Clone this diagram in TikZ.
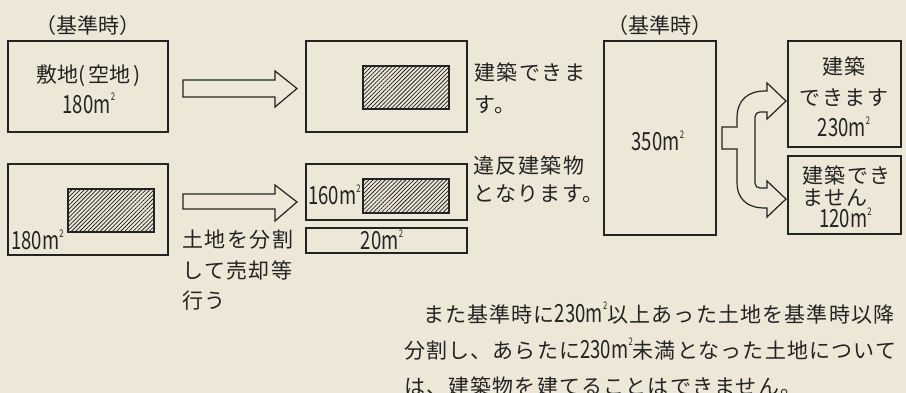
\documentclass[tikz,border=0pt]{standalone}
\usepackage{fontspec}
\setmainfont{Noto Sans CJK JP}[LetterSpace=7]
\newfontfamily\plainjp{Noto Sans CJK JP}
\newfontfamily\parafont{Noto Sans CJK JP}[LetterSpace=5.5]
\newfontfamily\numfont{Noto Sans CJK JP}[FakeStretch=0.74]
\usetikzlibrary{patterns.meta}
\definecolor{bg}{RGB}{237,231,215}
\definecolor{ink}{RGB}{35,35,35}
\newcommand\area[1]{{\numfont\fontsize{25}{25}\selectfont #1m\kern0.3pt\raisebox{0.5em}{\fontsize{10.5}{10.5}\selectfont 2}}}
\begin{document}
\begin{tikzpicture}[x=1pt,y=-1pt,
  every node/.style={inner sep=0pt, text=ink, font=\fontsize{21}{30}\selectfont},
  box/.style={draw=ink, line width=1.5pt},
  hatch/.style={draw=ink, line width=1.8pt, pattern={Lines[angle=45,distance=2.9pt,line width=0.75pt]}, pattern color=ink},
  blockarrow/.style={draw=ink, line width=1.2pt, line join=miter}]
\useasboundingbox[fill=bg] (0,0) rectangle (906,393);

% left top row
\node[font=\plainjp\fontsize{21}{30}\selectfont] (k1) at (88,26) {（基準時）};
\node[box, minimum width=160, minimum height=91] (b1) at (88,86.5) {};
\node[align=center, font=\plainjp\fontsize{21}{31}\selectfont] (b1t) at (89,89)
  {敷地(\hspace{3pt}空地\hspace{3pt})\\\area{180}};
\node[box, minimum width=161, minimum height=91] (b2) at (386.5,86.5) {};
\node[hatch, minimum width=86, minimum height=43] (h1) at (406,87.5) {};
\draw[blockarrow] (183,80) -- (275,80) -- (275,71) -- (297,88.5) -- (275,107) -- (275,97) -- (183,97) -- cycle;
\node[anchor=west, align=left, font=\fontsize{21}{32}\selectfont] (t1) at (474,88) {建築できま\\す。};

% left bottom row
\node[box, minimum width=160, minimum height=91] (b3) at (88,209.5) {};
\node[hatch, minimum width=86, minimum height=43] (h2) at (111,210.5) {};
\node[anchor=west] (a180) at (11,240) {\area{180}};
\draw[blockarrow] (183,194) -- (275,194) -- (275,185) -- (297,202) -- (275,221) -- (275,209) -- (183,209) -- cycle;
\node[box, minimum width=161, minimum height=56] (b4) at (386.5,192) {};
\node[hatch, minimum width=86, minimum height=34] (h3) at (406,196) {};
\node[anchor=west] (a160) at (308,195) {\area{160}};
\node[box, minimum width=161, minimum height=25] (b5) at (386.5,240.5) {};
\node (a20) at (382,240) {\area{20}};
\node[anchor=west, align=left, font=\fontsize{21}{28}\selectfont] (t2) at (473,179) {違反建築物\\となります。};
\node[anchor=west, align=left, font=\fontsize{21}{30.5}\selectfont] (t3) at (182,270.5) {土地を分割\\して売却等\\行う};

% right part
\node[font=\plainjp\fontsize{21}{30}\selectfont] (k2) at (660,26) {（基準時）};
\node[box, minimum width=112, minimum height=194] (big) at (660,138) {};
\node (a350) at (658,141) {\area{350}};
\node[box, minimum width=113, minimum height=106] (rt) at (844.5,94) {};
\node[align=center, font=\fontsize{21}{31}\selectfont] (rtt) at (844,97) {建築\\できます\\\area{230}};
\node[box, minimum width=113, minimum height=78] (rb) at (844.5,195) {};
\node[anchor=west, align=left, font=\fontsize{21}{22}\selectfont] (rbt) at (802,197)
  {建築でき\\ません\\\hspace{17pt}\area{120}};
\draw[blockarrow] (722,127) -- (737,127) -- (737,118) .. controls (737,100) and (748,91) .. (765,91)
  -- (767,91) -- (767,83) -- (786,101) -- (767,119) -- (767,112) -- (760,112)
  .. controls (757,112) and (755,114) .. (755,117) -- (755,183)
  .. controls (755,186) and (757,188) .. (760,188) -- (767,188) -- (767,181)
  -- (786,199) -- (767,217) -- (767,208) -- (765,208)
  .. controls (748,208) and (737,200) .. (737,182) -- (737,149) -- (722,149) -- cycle;

% paragraph
\node[anchor=west, align=left, font=\parafont\fontsize{21}{36}\selectfont] (para) at (404,349)
  {\hspace{19pt}また基準時に\area{230}以上あった土地を基準時以降\\分割し、あらたに\area{230}未満となった土地について\\は、建築物を建てることはできません。};
\end{tikzpicture}
\end{document}
